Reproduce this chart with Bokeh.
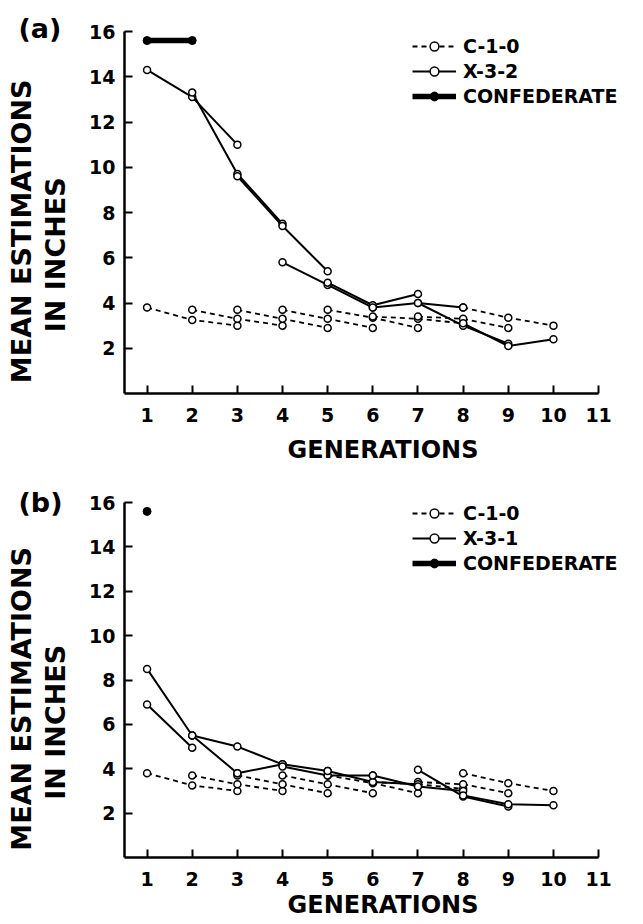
from bokeh.plotting import figure
from bokeh.models import Legend, LegendItem, FixedTicker, Range1d, LinearAxis
from bokeh.layouts import column
from bokeh.embed import file_html
from bokeh.resources import INLINE

# ---------------- data ----------------
generation_ticks = [1, 2, 3, 4, 5, 6, 7, 8, 9, 10, 11]
estimation_ticks = [2, 4, 6, 8, 10, 12, 14, 16]

# C-1-0 control: each subject followed over consecutive generations (same in both panels)
control_start = [1, 2, 3, 4, 5, 6, 7, 8]
control_values = [
    [3.8, 3.25, 3.0],
    [3.7, 3.3, 3.0],
    [3.7, 3.3, 2.9],
    [3.7, 3.3, 2.9],
    [3.7, 3.35, 2.9],
    [3.4, 3.3, 3.1],
    [3.4, 3.3, 2.9],
    [3.8, 3.35, 3.0],
]

# X-3-2 (panel a)
x32_start = [1, 2, 3, 4, 5, 6, 7, 8]
x32_values = [
    [14.3, 13.1, 11.0],
    [13.3, 9.7, 7.5],
    [9.6, 7.4, 5.4],
    [5.8, 4.8, 3.8],
    [4.9, 3.9, 4.4],
    [3.8, 4.0, 3.8],
    [4.0, 3.0, 2.2],
    [3.1, 2.1, 2.4],
]

# X-3-1 (panel b)
x31_start = [1, 1, 2, 3, 4, 5, 6, 7, 8]
x31_values = [
    [8.5, 5.5, 3.8],
    [6.9, 4.95],
    [5.5, 5.0, 4.2],
    [3.8, 4.2, 3.9],
    [4.1, 3.7, 3.7],
    [3.9, 3.4, 3.3],
    [3.7, 3.2, 3.0],
    [3.95, 2.75, 2.3],
    [2.8, 2.4, 2.35],
]

# Confederates
confed_a_gens = [1, 2]
confed_a_values = [15.6, 15.6]
confed_b_gens = [1]
confed_b_values = [15.6]

FONT = "DejaVu Sans"
NBSP = "\u00a0"


def label_axis(text, standoff):
    return LinearAxis(ticker=FixedTicker(ticks=[]), axis_line_color=None,
                      major_tick_line_color=None, minor_tick_line_color=None,
                      major_label_text_font_size="0px",
                      axis_label=text, axis_label_standoff=standoff,
                      axis_label_text_font=FONT, axis_label_text_font_size="27px",
                      axis_label_text_font_style="bold", axis_label_text_color="black")


def make_panel(tag, exp_name, exp_start, exp_values, conf_gens, conf_values,
               frame_h, top_b, bottom_b, legend_y, gen_standoff, tag_standoff):
    p = figure(frame_width=517, frame_height=frame_h,
               x_range=Range1d(0.5, 11.95), y_range=Range1d(0, 16),
               output_backend="svg", toolbar_location=None,
               min_border_left=124, min_border_right=0,
               min_border_top=top_b, min_border_bottom=bottom_b)
    p.grid.visible = False
    p.outline_line_color = None
    p.background_fill_color = "white"
    p.border_fill_color = "white"

    # panel tag "(a)" / "(b)"
    p.title.text = tag
    p.title.align = "left"
    p.title.offset = -106
    p.title.standoff = tag_standoff
    p.title.text_font = FONT
    p.title.text_font_size = "27px"
    p.title.text_font_style = "bold"
    p.title.text_color = "black"

    for ax in (p.xaxis[0], p.yaxis[0]):
        ax.axis_line_width = 2.5
        ax.axis_line_color = "black"
        ax.major_tick_line_width = 2
        ax.major_tick_line_color = "black"
        ax.major_tick_in = 8
        ax.major_tick_out = 0
        ax.minor_tick_line_color = None
        ax.major_label_text_font = FONT
        ax.major_label_text_font_size = "19px"
        ax.major_label_text_font_style = "bold"
        ax.major_label_text_color = "black"
        ax.major_label_standoff = 9
        ax.axis_label_text_font = FONT
        ax.axis_label_text_font_style = "bold"
        ax.axis_label_text_color = "black"
    p.xaxis[0].bounds = (0.5, 11)
    p.xaxis[0].ticker = FixedTicker(ticks=generation_ticks)
    p.xaxis[0].major_label_standoff = 14
    p.yaxis[0].ticker = FixedTicker(ticks=estimation_ticks)
    p.xaxis[0].axis_label = "GENERATIONS"
    p.xaxis[0].axis_label_text_font_size = "24px"
    p.xaxis[0].axis_label_standoff = gen_standoff

    # two-line vertical axis title; trailing no-break spaces shift it down the axis
    p.add_layout(label_axis("IN INCHES" + NBSP * 9, 16), "left")
    p.add_layout(label_axis("MEAN ESTIMATIONS" + NBSP * 4, 0), "left")

    c_r = None
    for s, vals in zip(control_start, control_values):
        xs = list(range(s, s + len(vals)))
        lr = p.line(xs, vals, line_color="black", line_width=1.8, line_dash="5 4")
        sr = p.scatter(xs, vals, marker="circle", size=7, fill_color="white",
                       line_color="black", line_width=1.5)
        if c_r is None:
            c_r = [lr, sr]

    x_r = None
    for s, vals in zip(exp_start, exp_values):
        xs = list(range(s, s + len(vals)))
        lr = p.line(xs, vals, line_color="black", line_width=2)
        sr = p.scatter(xs, vals, marker="circle", size=7, fill_color="white",
                       line_color="black", line_width=1.5)
        if x_r is None:
            x_r = [lr, sr]

    fl = p.line(conf_gens, conf_values, line_color="black", line_width=5.5)
    fs = p.scatter(conf_gens, conf_values, marker="circle", size=8,
                   fill_color="black", line_color="black")

    legend = Legend(items=[LegendItem(label="C-1-0", renderers=c_r),
                           LegendItem(label=exp_name, renderers=x_r),
                           LegendItem(label="CONFEDERATE", renderers=[fl, fs])],
                    location=(288, legend_y), padding=0, margin=0, spacing=3,
                    glyph_width=44, glyph_height=22, label_height=22,
                    label_standoff=7, border_line_color=None,
                    background_fill_alpha=0,
                    label_text_font=FONT, label_text_font_size="19px",
                    label_text_font_style="bold", label_text_color="black")
    p.add_layout(legend)
    return p


pa = make_panel("(a)", "X-3-2", x32_start, x32_values, confed_a_gens, confed_a_values,
                frame_h=362, top_b=31, bottom_b=72, legend_y=286,
                gen_standoff=11, tag_standoff=-25)
pb = make_panel("(b)", "X-3-1", x31_start, x31_values, confed_b_gens, confed_b_values,
                frame_h=355, top_b=36, bottom_b=66, legend_y=283,
                gen_standoff=2, tag_standoff=-30)

layout = column(pa, pb, spacing=0)
open("out.html", "w").write(file_html(layout, INLINE))
